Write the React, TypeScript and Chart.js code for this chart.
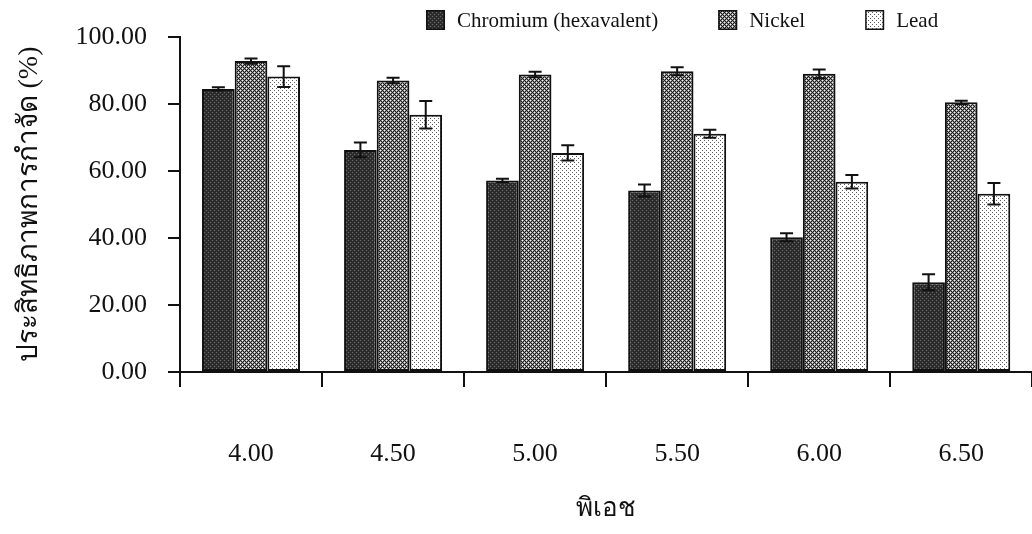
import { useEffect, useRef } from 'react';
import { Chart, registerables } from 'chart.js';

Chart.register(...registerables);

// pH levels on the x axis
const phLabels = ['4.00', '4.50', '5.00', '5.50', '6.00', '6.50'];

// Removal efficiency (%) and standard deviations per metal
const chromium = [84.5, 66.3, 57.2, 54.2, 40.2, 26.8];
const chromiumErr = [0.5, 2.2, 0.5, 1.8, 1.2, 2.4];
const nickel = [92.8, 87.0, 88.8, 89.8, 89.0, 80.5];
const nickelErr = [0.8, 0.8, 0.8, 1.2, 1.3, 0.5];
const lead = [88.2, 76.8, 65.4, 71.1, 56.8, 53.2];
const leadErr = [3.1, 4.1, 2.3, 1.2, 2.0, 3.2];

const seriesNames = ['Chromium (hexavalent)', 'Nickel', 'Lead'];

const yMin = 0;
const yMax = 100;
const yStep = 20;

const xTitle = 'พิเอช';
const yTitle = 'ประสิทธิภาพการกำจัด (%)';

const SERIF = '"Liberation Serif", "Times New Roman", "DejaVu Serif", serif';
const INK = '#111111';

function makePattern(size: number, paint: (x: number, y: number) => string): CanvasPattern {
  const c = document.createElement('canvas');
  c.width = size;
  c.height = size;
  const g = c.getContext('2d')!;
  for (let y = 0; y < size; y++) {
    for (let x = 0; x < size; x++) {
      g.fillStyle = paint(x, y);
      g.fillRect(x, y, 1, 1);
    }
  }
  return g.createPattern(c, 'repeat')!;
}

// Whisker lines for each bar, read from dataset.errors
const errorBarPlugin = {
  id: 'errorBars',
  afterDatasetsDraw(chart: any) {
    const { ctx } = chart;
    const yScale = chart.scales.y;
    ctx.save();
    ctx.strokeStyle = INK;
    ctx.lineWidth = 2;
    chart.data.datasets.forEach((ds: any, i: number) => {
      const meta = chart.getDatasetMeta(i);
      meta.data.forEach((bar: any, j: number) => {
        const v = ds.data[j];
        const e = ds.errors[j];
        const yHi = yScale.getPixelForValue(v + e);
        const yLo = yScale.getPixelForValue(v - e);
        const x = bar.x;
        const half = 6.5;
        ctx.beginPath();
        ctx.moveTo(x, yHi);
        ctx.lineTo(x, yLo);
        ctx.moveTo(x - half, yHi);
        ctx.lineTo(x + half, yHi);
        ctx.moveTo(x - half, yLo);
        ctx.lineTo(x + half, yLo);
        ctx.stroke();
      });
    });
    ctx.restore();
  },
};

// Single-row legend drawn across the top right
const topLegendPlugin = {
  id: 'topLegend',
  afterDraw(chart: any) {
    const { ctx } = chart;
    ctx.save();
    ctx.font = '21px ' + SERIF;
    ctx.textBaseline = 'middle';
    ctx.textAlign = 'left';
    let x = 426;
    const boxTop = 10;
    chart.data.datasets.forEach((ds: any) => {
      ctx.fillStyle = ds.backgroundColor;
      ctx.fillRect(x, boxTop, 19, 20);
      ctx.strokeStyle = INK;
      ctx.lineWidth = 1.5;
      ctx.strokeRect(x + 0.75, boxTop + 0.75, 17.5, 18.5);
      ctx.fillStyle = INK;
      ctx.fillText(ds.label, x + 31, boxTop + 11);
      x += 31 + ctx.measureText(ds.label).width + 60;
    });
    ctx.restore();
  },
};

export default function App() {
  const canvasRef = useRef<HTMLCanvasElement | null>(null);

  useEffect(() => {
    const canvas = canvasRef.current;
    if (!canvas) return;

    // dark dense mesh
    const crPattern = makePattern(4, (x, y) =>
      (x === 0 && y === 0) || (x === 2 && y === 2) ? '#6a6a6a' : (x + y) % 2 === 0 ? '#262626' : '#333333'
    );
    // diagonal cross-hatch with light diamonds
    const niPattern = makePattern(4, (x, y) => {
      const onLine = (x + y) % 4 === 0 || (x - y + 4) % 4 === 0;
      if (onLine) return '#1c1c1c';
      if ((x === 2 && y === 0) || (x === 0 && y === 2)) return '#f4f4f4';
      return '#939393';
    });
    // sparse grey dots on white
    const pbPattern = makePattern(4, (x, y) =>
      (x === 0 && y === 0) || (x === 2 && y === 2) ? '#5e5e5e' : '#ffffff'
    );

    const makeSet = (label: string, data: number[], errors: number[], fill: CanvasPattern) => ({
      label,
      data,
      errors,
      backgroundColor: fill,
      borderColor: INK,
      borderWidth: 2,
      borderSkipped: false,
      categoryPercentage: 0.69,
      barPercentage: 1.0,
    });

    const chart = new Chart(canvas, {
      type: 'bar',
      data: {
        labels: phLabels,
        datasets: [
          makeSet(seriesNames[0], chromium, chromiumErr, crPattern),
          makeSet(seriesNames[1], nickel, nickelErr, niPattern),
          makeSet(seriesNames[2], lead, leadErr, pbPattern),
        ] as any,
      },
      options: {
        responsive: false,
        animation: false,
        events: [],
        layout: { padding: { top: 37, left: 0, right: 0, bottom: 0 } },
        font: { family: SERIF },
        plugins: {
          legend: { display: false },
          tooltip: { enabled: false },
        },
        scales: {
          x: {
            type: 'category',
            offset: true,
            afterFit(scale: any) {
              scale.height = 162;
            },
            border: { display: true, color: INK, width: 2 },
            grid: {
              offset: true,
              drawOnChartArea: false,
              drawTicks: true,
              tickLength: 15,
              color: INK,
              lineWidth: 2,
            },
            ticks: {
              color: INK,
              padding: 52,
              font: { family: SERIF, size: 26 },
              maxRotation: 0,
            },
            title: {
              display: true,
              text: xTitle,
              color: INK,
              font: { family: SERIF, size: 26 },
              padding: { top: 0, bottom: 9 },
            },
          },
          y: {
            min: yMin,
            max: yMax,
            afterFit(scale: any) {
              scale.width = 180;
            },
            border: { display: true, color: INK, width: 2 },
            grid: {
              drawOnChartArea: false,
              drawTicks: true,
              tickLength: 12,
              color: INK,
              lineWidth: 2,
            },
            ticks: {
              stepSize: yStep,
              color: INK,
              padding: 21,
              font: { family: SERIF, size: 26 },
              callback: (v: any) => Number(v).toFixed(2),
            },
            title: {
              display: true,
              text: yTitle,
              color: INK,
              font: { family: SERIF, size: 28 },
              padding: { top: 13, bottom: 0 },
            },
          },
        },
      } as any,
      plugins: [errorBarPlugin, topLegendPlugin],
    });

    return () => chart.destroy();
  }, []);

  return (
    <div
      style={{
        position: 'absolute',
        left: 0,
        top: 0,
        width: 1032,
        height: 534,
        background: '#ffffff',
        overflow: 'hidden',
      }}
    >
      <canvas ref={canvasRef} width={1036} height={534} style={{ display: 'block' }} />
    </div>
  );
}
